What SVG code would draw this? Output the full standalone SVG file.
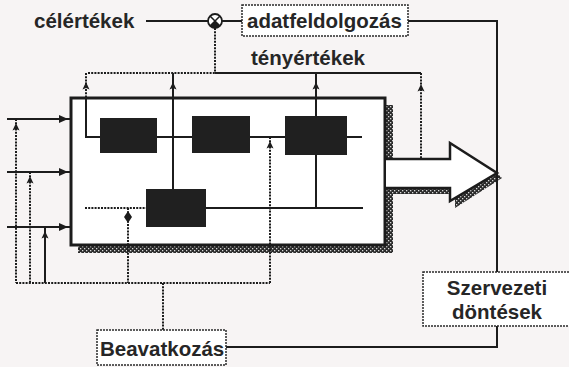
<svg xmlns="http://www.w3.org/2000/svg" width="569" height="367" viewBox="0 0 569 367">
<style>
.t{font-family:"Liberation Sans",Arial,sans-serif;font-weight:bold;font-size:20.5px;fill:#262626}
.ln{fill:none;stroke:#1c1c1c;stroke-width:2}
.dt{fill:none;stroke:#1c1c1c;stroke-width:2;stroke-dasharray:2 1.2}
.box{fill:#ffffff;stroke:#2a2a2a;stroke-width:1.5;stroke-dasharray:2 1}
.blk{fill:#202020}
.ah{fill:#1c1c1c}
</style>
<defs>
<pattern id="shade" width="4" height="4" patternUnits="userSpaceOnUse">
<rect width="4" height="4" fill="#2a2a2a"/>
<rect x="0" y="0" width="1.3" height="1.3" fill="#d8d8d8"/>
<rect x="2" y="2" width="1.3" height="1.3" fill="#d8d8d8"/>
</pattern>
<path id="up" d="M0,-5 L3.5,2.5 L0,1 L-3.5,2.5 Z"/>
<path id="right" d="M6,0 L-3,-4 L-3,4 Z"/>
</defs>
<rect width="569" height="367" fill="#f7f4f4"/>

<g id="system">
<path d="M393,105 V253 H78 V245 H385 V105 Z" fill="url(#shade)"/>
<rect x="71" y="98" width="314" height="147" fill="#ffffff" stroke="#1c1c1c" stroke-width="3"/>
<rect class="blk" x="100" y="118" width="57" height="35"/>
<rect class="blk" x="192" y="116" width="58" height="37"/>
<rect class="blk" x="285" y="116" width="62" height="39"/>
<rect class="blk" x="146" y="189" width="60" height="38"/>
</g>

<g id="output-arrow">
<path d="M388,188 H450 V201 L497,173 L502,178 L455,208 V194 H388 Z" fill="url(#shade)"/>
<path d="M386,159 H450 V143 L497,173 L450,201 V188 H386" fill="#ffffff" stroke="#1c1c1c" stroke-width="2.5" stroke-linejoin="miter"/>
</g>

<g id="connectors">
<path class="ln" d="M146,21 H208"/>
<path class="ln" d="M222,21 H242"/>
<path class="ln" d="M408,21 H497 V272"/>
<path class="ln" d="M497,326 V347 H226"/>
<path class="dt" d="M215,28 V73"/>
<path class="dt" d="M88,73 H215"/>
<path class="ln" d="M215,73 H421"/>
<path class="dt" d="M86,73 V98"/>
<path class="ln" d="M86,98 V137 H100"/>
<path class="ln" d="M173,73 V189"/>
<path class="ln" d="M316,73 V116"/>
<path class="ln" d="M316,155 V208"/>
<path class="dt" d="M421,73 V159"/>
<path class="ln" d="M157,137 H192 M250,137 H285 M347,137 H362"/>
<path class="dt" d="M85,208 H146"/>
<path class="ln" d="M206,208 H363"/>
<path class="dt" d="M128,208 V283"/>
<path class="dt" d="M270,137 V283"/>
<path class="dt" d="M16,283 H270"/>
<path class="dt" d="M163,283 V330"/>
<path class="ln" d="M7,119 H71 M7,172 H71 M7,227 H71"/>
<path class="dt" d="M16,119 V283 M30,172 V283"/>
<path class="ln" d="M45,227 V283"/>
<g class="ah">
<use href="#up" x="16" y="128"/>
<use href="#up" x="30" y="181"/>
<use href="#up" x="45" y="236"/>
<use href="#up" x="86" y="87"/>
<use href="#up" x="173" y="87"/>
<use href="#up" x="316" y="87"/>
<use href="#up" x="421" y="89"/>
<use href="#up" x="270" y="146"/>
<use href="#right" x="62" y="119"/>
<use href="#right" x="62" y="172"/>
<use href="#right" x="62" y="227"/>
<path d="M128,211 L132,217 L128,223 L124,217 Z"/>
</g>
</g>

<g id="celertekek"><text class="t" x="34" y="28" font-size="21">célértékek</text></g>

<g id="junction">
<circle cx="215" cy="21" r="7" fill="#ffffff" stroke="#1c1c1c" stroke-width="1.8"/>
<path d="M215,21 L210,26 A7,7 0 0 0 220,26 Z" fill="#1c1c1c"/>
<path d="M210,16 L220,26 M220,16 L210,26" stroke="#1c1c1c" stroke-width="1.5"/>
</g>

<g id="adatfeldolgozas">
<rect class="box" x="242" y="5" width="166" height="31"/>
<text class="t" x="247" y="28">adatfeldolgozás</text>
</g>

<g id="tenyertekek"><text class="t" x="251" y="65">tényértékek</text></g>

<g id="szervezeti">
<rect class="box" x="423" y="272" width="152" height="54"/>
<text class="t" x="497" y="295" text-anchor="middle">Szervezeti</text>
<text class="t" x="497" y="319" text-anchor="middle">döntések</text>
</g>

<g id="beavatkozas">
<rect class="box" x="97" y="330" width="129" height="35"/>
<text class="t" x="100" y="356">Beavatkozás</text>
</g>
</svg>
